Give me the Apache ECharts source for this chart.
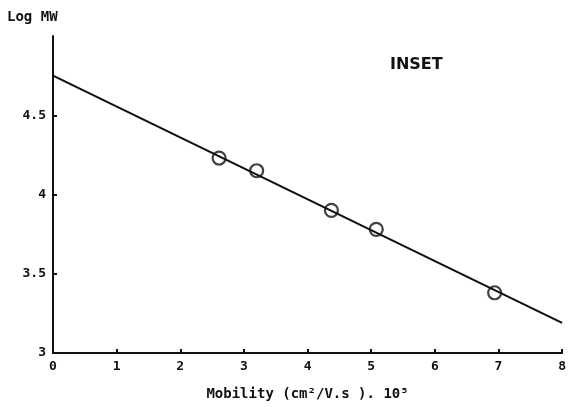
<!DOCTYPE html>
<html>
<head>
<meta charset="utf-8">
<script src="https://cdn.jsdelivr.net/npm/echarts@6/dist/echarts.min.js"></script>
<style>
html,body{margin:0;padding:0;background:#fff;}
#chart{width:569px;height:407px;}
</style>
</head>
<body>
<div id="chart"></div>
<script>
// Data
var mobility = [2.61, 3.20, 4.375, 5.08, 6.94];
var logMW = [4.23, 4.15, 3.90, 3.78, 3.38];
var fitX = [0, 8];
var fitY = [4.75, 3.19];
var xTicks = ['0','1','2','3','4','5','6','7','8'];
var yTickValues = [3, 3.5, 4, 4.5];
var yTickLabels = ['3','3.5','4','4.5'];

var pts = mobility.map(function(x,i){return [x, logMW[i]];});
var fit = fitX.map(function(x,i){return [x, fitY[i]];});

var font = 'DejaVu Sans Mono';
var chart = echarts.init(document.getElementById('chart'), null, {renderer:'canvas'});
chart.setOption({
  animation:false,
  backgroundColor:'#fff',
  grid:{left:53, right:5, top:36, bottom:54},
  title:{
    text:'INSET', left:385, top:52,
    textStyle:{fontFamily:'DejaVu Sans', fontWeight:'bold', fontSize:16, color:'#111'}
  },
  graphic:[{
    type:'text', left:7, top:10,
    style:{text:'Log MW', font:'bold 14px "DejaVu Sans Mono"', fill:'#111'}
  }],
  xAxis:{
    type:'value', min:0, max:8, interval:1,
    name:'Mobility (cm²/V.s ). 10⁵', nameLocation:'middle', nameGap:34,
    nameTextStyle:{fontFamily:font, fontWeight:'bold', fontSize:14, color:'#111'},
    axisLine:{lineStyle:{color:'#111', width:2}},
    axisTick:{inside:true, length:4, lineStyle:{color:'#111', width:2}},
    axisLabel:{fontFamily:font, fontWeight:'bold', fontSize:13, color:'#111', margin:7,
      formatter:function(v){return xTicks[Math.round(v)];}},
    splitLine:{show:false}
  },
  yAxis:{
    type:'value', min:3, max:5, interval:0.5,
    axisLine:{show:true, lineStyle:{color:'#111', width:2}},
    axisTick:{show:true, inside:true, length:4, customValues:yTickValues, lineStyle:{color:'#111', width:2}},
    axisLabel:{fontFamily:font, fontWeight:'bold', fontSize:13, color:'#111', margin:7,
      customValues:yTickValues,
      formatter:function(v){var i=yTickValues.indexOf(v); return i>=0 ? yTickLabels[i] : '';}},
    splitLine:{show:false}
  },
  series:[
    {type:'line', data:fit, symbol:'none', lineStyle:{color:'#111', width:2.2}, z:2},
    {type:'scatter', data:pts, symbol:'circle', symbolSize:13,
      itemStyle:{color:'rgba(255,255,255,0)', borderColor:'#111', borderWidth:2.2}, z:3}
  ]
});
</script>
</body>
</html>
